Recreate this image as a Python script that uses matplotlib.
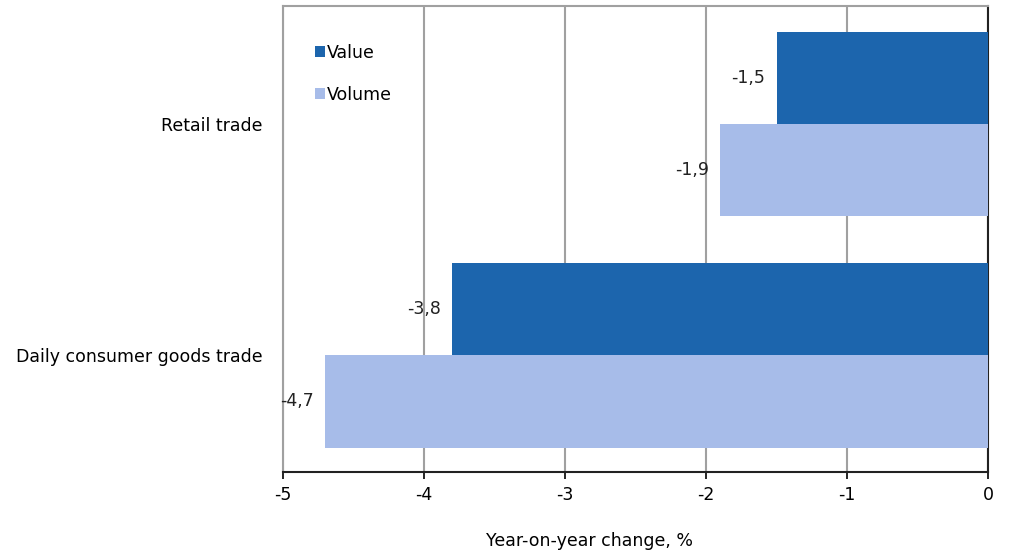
import matplotlib
matplotlib.use("Agg")
import matplotlib.pyplot as plt
import numpy as np

# data
categories = ["Retail trade", "Daily consumer goods trade"]
value = [-1.5, -3.8]
volume = [-1.9, -4.7]
series_names = ["Value", "Volume"]
xticks = [-5, -4, -3, -2, -1, 0]

c_value = "#1c65ad"
c_volume = "#a7bce9"
fs = 12.5

fig = plt.figure(figsize=(10.11, 5.55), dpi=100)
ax = fig.add_axes([283 / 1011, 1 - 472 / 555, 705 / 1011, 466 / 555])

y = np.arange(len(categories))
h = 0.4
b1 = ax.barh(y - h / 2, value, height=h, color=c_value, label=series_names[0], zorder=3)
b2 = ax.barh(y + h / 2, volume, height=h, color=c_volume, label=series_names[1], zorder=3)

for bars, vals in [(b1, value), (b2, volume)]:
    for bar, v in zip(bars, vals):
        ax.text(v - 0.08, bar.get_y() + bar.get_height() / 2, f"{v:.1f}".replace(".", ","),
                ha="right", va="center", fontsize=fs, color="#222222")

ax.set_xlim(-5, 0)
ax.set_ylim(1.506, -0.511)
ax.set_xticks(xticks)
ax.set_xticklabels([str(t) for t in xticks], fontsize=fs)
ax.set_yticks(y)
ax.set_yticklabels(categories, fontsize=fs)
ax.tick_params(axis="y", length=0, pad=15)
ax.tick_params(axis="x", length=5, width=1.2, direction="out", pad=5)
ax.grid(axis="x", color="#a0a0a0", linewidth=1.5, zorder=0)

for side in ["top", "left"]:
    ax.spines[side].set_color("#a0a0a0")
    ax.spines[side].set_linewidth(1.5)
for side in ["right", "bottom"]:
    ax.spines[side].set_color("#222222")
    ax.spines[side].set_linewidth(1.5)

ax.legend(loc="upper left", bbox_to_anchor=(0.035, 0.934), frameon=False, fontsize=fs,
          handlelength=0.6, handleheight=0.6, handletextpad=0.1, labelspacing=1.4,
          borderaxespad=0)

fig.text(590 / 1011, 1 - 541 / 555, "Year-on-year change, %", ha="center", va="center", fontsize=fs)

fig.savefig("out.png", dpi=100)
